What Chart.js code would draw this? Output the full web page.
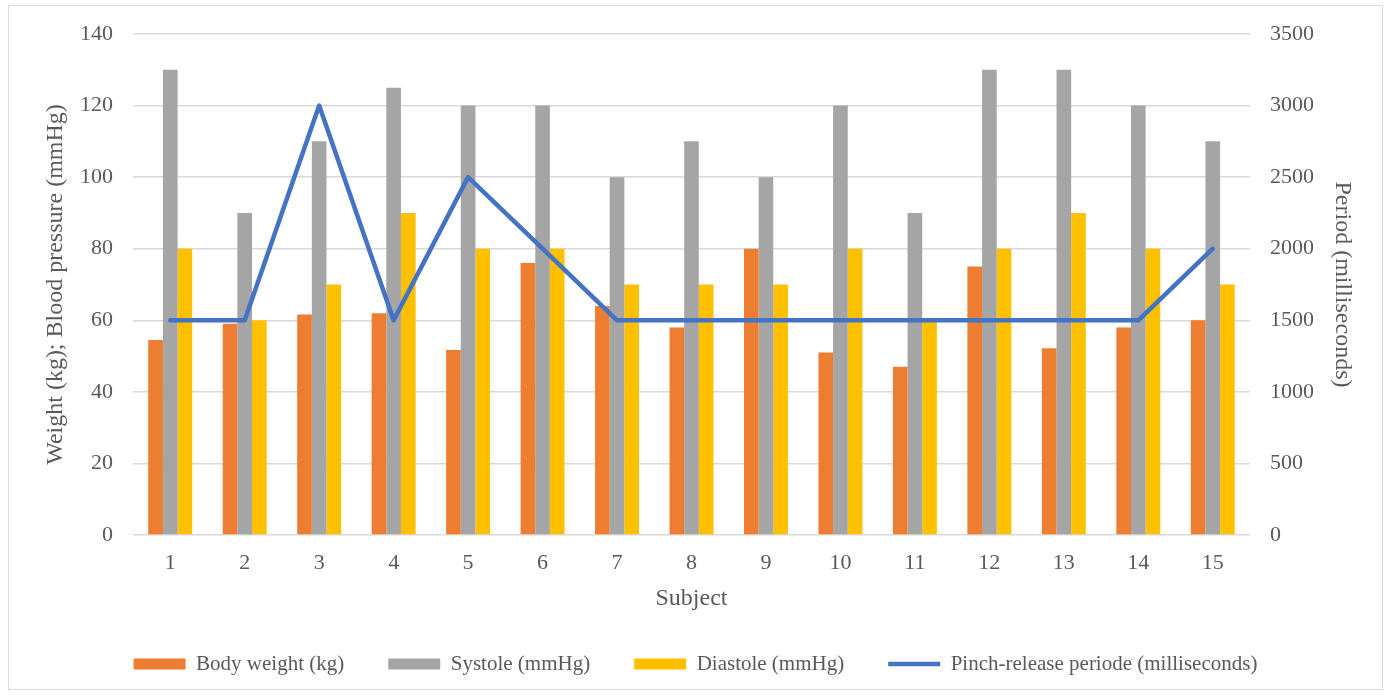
<!DOCTYPE html>
<html>
<head>
<meta charset="utf-8">
<script src="https://cdn.jsdelivr.net/npm/chart.js@4.4.1/dist/chart.umd.min.js"></script>
<style>
  html, body { margin: 0; padding: 0; background: #ffffff; }
  #frame {
    position: absolute; left: 8px; top: 5px;
    width: 1375px; height: 685px;
    border: 1px solid #d9d9d9; box-sizing: border-box;
  }
  #chart { display: block; }
</style>
</head>
<body>
<div id="frame"><canvas id="chart" width="1373" height="683"></canvas></div>
<script>
const subjects = ['1','2','3','4','5','6','7','8','9','10','11','12','13','14','15'];
const bodyWeight = [54.5, 59, 61.6, 62, 51.7, 76, 64, 58, 80, 51, 47, 75, 52.2, 58, 60];
const systole = [130, 90, 110, 125, 120, 120, 100, 110, 100, 120, 90, 130, 130, 120, 110];
const diastole = [80, 60, 70, 90, 80, 80, 70, 70, 70, 80, 60, 80, 90, 80, 70];
const pinchPeriod = [1500, 1500, 3000, 1500, 2500, 2000, 1500, 1500, 1500, 1500, 1500, 1500, 1500, 1500, 2000];

const textColor = '#595959';
const gridColor = '#d9d9d9';
const serif = '"Liberation Serif", "Times New Roman", serif';

// fixed axis sizes so the plot area sits at the same place every time
function fixVertical(width) {
  return s => { s.width = width; s.paddingTop = 0; s.paddingBottom = 0; };
}

new Chart(document.getElementById('chart'), {
  data: {
    labels: subjects,
    datasets: [
      {
        type: 'line', label: 'Pinch-release periode (milliseconds)', data: pinchPeriod,
        yAxisID: 'yRight', borderColor: '#4472C4', backgroundColor: '#4472C4',
        borderWidth: 4.5, borderJoinStyle: 'round', borderCapStyle: 'round',
        pointRadius: 0, pointStyle: 'line', order: 0, tension: 0
      },
      {
        type: 'bar', label: 'Body weight (kg)', data: bodyWeight, yAxisID: 'yLeft',
        backgroundColor: '#ED7D31', borderWidth: 0, pointStyle: 'rect', order: 1
      },
      {
        type: 'bar', label: 'Systole (mmHg)', data: systole, yAxisID: 'yLeft',
        backgroundColor: '#A5A5A5', borderWidth: 0, pointStyle: 'rect', order: 2
      },
      {
        type: 'bar', label: 'Diastole (mmHg)', data: diastole, yAxisID: 'yLeft',
        backgroundColor: '#FFC000', borderWidth: 0, pointStyle: 'rect', order: 3
      }
    ]
  },
  options: {
    responsive: false,
    animation: false,
    layout: { padding: { top: 28, bottom: 4.5, left: 0, right: 0 } },
    datasets: { bar: { barPercentage: 1.0, categoryPercentage: 0.59 } },
    scales: {
      x: {
        grid: { display: false, drawTicks: false },
        border: { display: false },
        ticks: { color: textColor, font: { family: serif, size: 22 }, padding: 15 },
        title: { display: true, text: 'Subject', color: textColor, font: { family: serif, size: 24 }, padding: { top: 0, bottom: -4 } },
        afterFit(s) { s.height = 74.5; }
      },
      yLeft: {
        position: 'left', min: 0, max: 140,
        ticks: { stepSize: 20, color: textColor, font: { family: serif, size: 22 }, padding: 20 },
        grid: { color: gridColor, lineWidth: 1.5, drawTicks: false },
        border: { display: false },
        title: { display: true, text: 'Weight (kg); Blood pressure (mmHg)', color: textColor, font: { family: serif, size: 24 }, padding: { top: 32, bottom: 0 } },
        afterFit: fixVertical(124)
      },
      yRight: {
        position: 'right', min: 0, max: 3500,
        ticks: { stepSize: 500, color: textColor, font: { family: serif, size: 22 }, padding: 20, callback: v => String(v) },
        grid: { display: false, drawTicks: false },
        border: { display: false },
        title: { display: true, text: 'Period (milliseconds)', color: textColor, font: { family: serif, size: 24 }, padding: { top: 25, bottom: 0 } },
        afterFit: fixVertical(132)
      }
    },
    plugins: {
      tooltip: { enabled: false },
      legend: {
        position: 'bottom',
        labels: {
          usePointStyle: true, pointStyleWidth: 52, boxHeight: 11,
          color: textColor, font: { family: serif, size: 21 }, padding: 44,
          sort: (a, b) => (a.datasetIndex === 0) - (b.datasetIndex === 0)
        }
      }
    }
  }
});
</script>
</body>
</html>
